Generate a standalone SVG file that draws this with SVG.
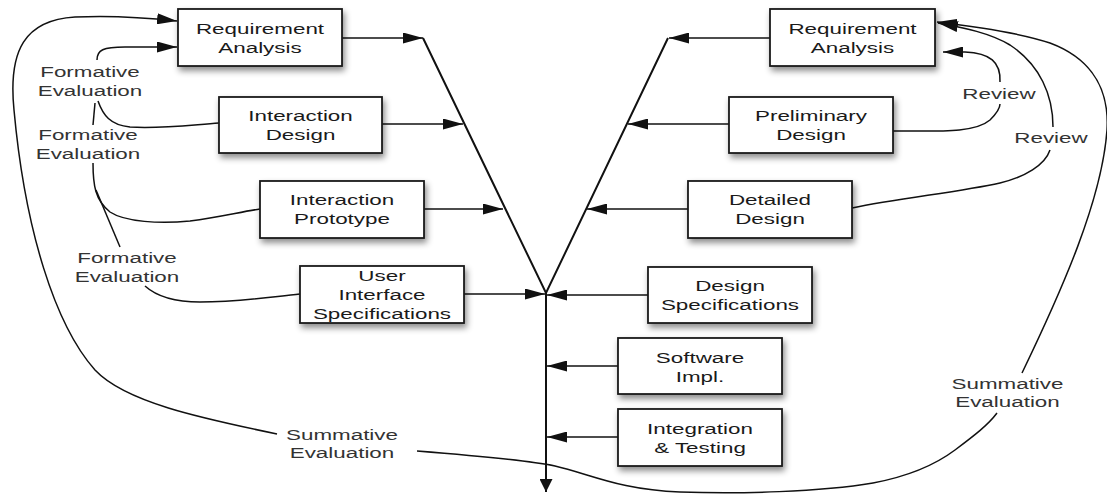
<svg xmlns="http://www.w3.org/2000/svg" width="1107" height="495" viewBox="0 0 1107 495">
  <defs>
    <style>
      .box { fill: #fff; stroke: #1a1a1a; stroke-width: 1.8; filter: url(#shadow); }
      .t { font-family: "Liberation Sans", Arial, sans-serif; font-size: 15.5px; fill: #1a1a1a; text-anchor: middle; }
      .lbl { font-family: "Liberation Sans", Arial, sans-serif; font-size: 15.5px; fill: #333; text-anchor: middle; }
      .ln { fill: none; stroke: #111; stroke-width: 1.5; }
      .arr { marker-end: url(#head); }
      .spine { fill: none; stroke: #111; stroke-width: 2; }
    </style>
    <filter id="shadow" x="-10%" y="-20%" width="130%" height="160%">
      <feDropShadow dx="2" dy="4" stdDeviation="3" flood-color="#000" flood-opacity="0.45"/>
    </filter>
    <!-- wide, flat head for the horizontal feeds and loops -->
    <marker id="head" viewBox="0 0 20 11" refX="20" refY="5.5" markerWidth="20" markerHeight="11" markerUnits="userSpaceOnUse" orient="auto">
      <path d="M0,0 L20,5.5 L0,11 z" fill="#111"/>
    </marker>
    <!-- compact head for the stem -->
    <marker id="headv" viewBox="0 0 13 13" refX="13" refY="6.5" markerWidth="13" markerHeight="13" markerUnits="userSpaceOnUse" orient="auto">
      <path d="M0,0 L13,6.5 L0,13 z" fill="#111"/>
    </marker>
  </defs>

  <!-- connectors -->
  <g id="connectors">
    <!-- the V and the stem -->
    <polyline class="spine" points="423,38 546,293 668,38"/>
    <path class="spine" marker-end="url(#headv)" d="M546,293 L546,492"/>

    <!-- left arm feeds -->
    <path class="ln arr" d="M342,38 L423,38"/>
    <path class="ln arr" d="M382,124 L463,124"/>
    <path class="ln arr" d="M424,209 L503,209"/>
    <path class="ln arr" d="M464,294 L545,294"/>

    <!-- right arm feeds -->
    <path class="ln arr" d="M770,38 L669,38"/>
    <path class="ln arr" d="M729,124 L628,124"/>
    <path class="ln arr" d="M688,209 L587,209"/>
    <path class="ln arr" d="M648,295 L547,295"/>
    <path class="ln arr" d="M618,366 L547,366"/>
    <path class="ln arr" d="M618,437 L547,437"/>

    <!-- formative evaluation loops -->
    <path class="ln arr" d="M97,60 C97,50 103,47 125,47 L177,47"/>
    <path class="ln" d="M98,101 C103,115 110,125 130,127 C160,129 190,125 219,123"/>
    <path class="ln" d="M95,103 L93,125"/>
    <path class="ln" d="M93,163 C93,185 95,200 110,212 C125,222 160,224 190,221 C220,217 240,212 260,209"/>
    <path class="ln" d="M96,190 L120,247"/>
    <path class="ln" d="M145,286 C155,295 172,302 200,302 C240,302 270,297 300,294"/>

    <!-- summative evaluation, left -->
    <path class="ln arr" d="M277,434 C200,418 125,402 95,370 C55,325 25,230 14,110 C8,50 25,20 75,17 C115,15 150,18 177,21"/>

    <!-- summative evaluation, right -->
    <path class="ln" d="M417,451 C480,456 530,461 555,466 C590,474 620,490 680,492 C740,494 820,492 873,483 C910,476 935,465 955,450 C975,435 988,425 997,413"/>
    <path class="ln arr" d="M1022,373 C1062,290 1102,200 1107,130 C1110,80 1082,55 1050,43 C1020,33 980,27 937,22"/>

    <!-- reviews -->
    <path class="ln" d="M893,131 C940,131 975,133 990,120 C997,113 1000,108 1000,104"/>
    <path class="ln arr" d="M1000,82 C1001,62 990,53 965,52 L943,52"/>
    <path class="ln" d="M852,208 C900,198 960,192 1000,183 C1025,177 1045,165 1050,150"/>
    <path class="ln arr" d="M1053,127 C1053,95 1040,65 1010,45 C990,33 965,28 938,23"/>
  </g>

  <!-- left branch nodes -->
  <g id="req-analysis-ux">
    <rect class="box" x="178" y="9" width="164" height="57"/>
    <text class="t" transform="translate(260,0) scale(1.445,1)"><tspan x="0" y="34">Requirement</tspan><tspan x="0" y="53">Analysis</tspan></text>
  </g>
  <g id="interaction-design">
    <rect class="box" x="219" y="97" width="163" height="56"/>
    <text class="t" transform="translate(300.5,0) scale(1.445,1)"><tspan x="0" y="121.5">Interaction</tspan><tspan x="0" y="140.5">Design</tspan></text>
  </g>
  <g id="interaction-prototype">
    <rect class="box" x="260" y="181" width="164" height="57"/>
    <text class="t" transform="translate(342,0) scale(1.445,1)"><tspan x="0" y="205.5">Interaction</tspan><tspan x="0" y="224.5">Prototype</tspan></text>
  </g>
  <g id="ui-specifications">
    <rect class="box" x="300" y="266" width="164" height="57"/>
    <text class="t" transform="translate(382,0) scale(1.445,1)"><tspan x="0" y="281.5">User</tspan><tspan x="0" y="300.5">Interface</tspan><tspan x="0" y="319.5">Specifications</tspan></text>
  </g>

  <!-- right branch nodes -->
  <g id="req-analysis-sw">
    <rect class="box" x="770" y="9" width="165" height="57"/>
    <text class="t" transform="translate(852.5,0) scale(1.445,1)"><tspan x="0" y="34">Requirement</tspan><tspan x="0" y="53">Analysis</tspan></text>
  </g>
  <g id="preliminary-design">
    <rect class="box" x="729" y="97" width="164" height="56"/>
    <text class="t" transform="translate(811,0) scale(1.445,1)"><tspan x="0" y="121.5">Preliminary</tspan><tspan x="0" y="140.5">Design</tspan></text>
  </g>
  <g id="detailed-design">
    <rect class="box" x="688" y="181" width="164" height="57"/>
    <text class="t" transform="translate(770,0) scale(1.445,1)"><tspan x="0" y="205.5">Detailed</tspan><tspan x="0" y="224.5">Design</tspan></text>
  </g>
  <g id="design-specifications">
    <rect class="box" x="648" y="267" width="164" height="56"/>
    <text class="t" transform="translate(730,0) scale(1.445,1)"><tspan x="0" y="291.5">Design</tspan><tspan x="0" y="310.5">Specifications</tspan></text>
  </g>
  <g id="software-impl">
    <rect class="box" x="618" y="338" width="164" height="56"/>
    <text class="t" transform="translate(700,0) scale(1.445,1)"><tspan x="0" y="363">Software</tspan><tspan x="0" y="382">Impl.</tspan></text>
  </g>
  <g id="integration-testing">
    <rect class="box" x="618" y="409" width="164" height="57"/>
    <text class="t" transform="translate(700,0) scale(1.445,1)"><tspan x="0" y="434.5">Integration</tspan><tspan x="0" y="453.5">&amp; Testing</tspan></text>
  </g>

  <!-- connector labels -->
  <g id="labels">
    <text class="lbl" transform="translate(90,0) scale(1.445,1)"><tspan x="0" y="77">Formative</tspan><tspan x="0" y="96">Evaluation</tspan></text>
    <text class="lbl" transform="translate(88,0) scale(1.445,1)"><tspan x="0" y="140">Formative</tspan><tspan x="0" y="159">Evaluation</tspan></text>
    <text class="lbl" transform="translate(127,0) scale(1.445,1)"><tspan x="0" y="263.5">Formative</tspan><tspan x="0" y="282">Evaluation</tspan></text>
    <text class="lbl" transform="translate(342,0) scale(1.445,1)"><tspan x="0" y="440">Summative</tspan><tspan x="0" y="458.5">Evaluation</tspan></text>
    <text class="lbl" transform="translate(1007.5,0) scale(1.445,1)"><tspan x="0" y="389">Summative</tspan><tspan x="0" y="407.5">Evaluation</tspan></text>
    <text class="lbl" transform="translate(999,0) scale(1.445,1)"><tspan x="0" y="99">Review</tspan></text>
    <text class="lbl" transform="translate(1051,0) scale(1.445,1)"><tspan x="0" y="143">Review</tspan></text>
  </g>
</svg>
